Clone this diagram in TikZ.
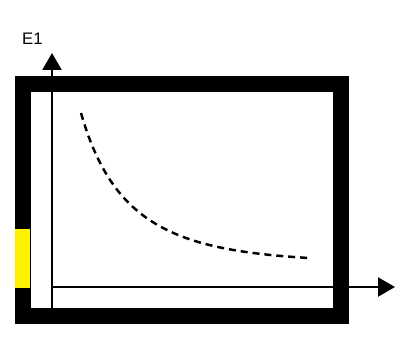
\documentclass[tikz,border=0pt]{standalone}
\usepackage{fontspec}
\setmainfont{Liberation Sans}
\usepackage{tikz}
\usetikzlibrary{positioning, arrows.meta}

\begin{document}
\begin{tikzpicture}[x=0.02cm, y=-0.02cm,
    axis/.style={line width=1.3pt, -{Triangle[length=0.34cm, width=0.38cm]}}]
  \useasboundingbox (0,0) rectangle (395,341);
  % thick frame
  \node[draw, line width=0.32cm, minimum width=6.36cm, minimum height=4.64cm,
        inner sep=0pt, outer sep=0pt] (frame) at (182,200) {};
  \fill[yellow] (15,229) rectangle (30,288);
  % axes
  \coordinate (ybase) at (52,308);
  \coordinate (ytop) at (52,53);
  \coordinate (origin) at (52,287);
  \coordinate (xend) at (395,287);
  \draw[axis] (ybase) -- (ytop);
  \draw[axis] (origin) -- (xend);
  \node[font=\fontsize{9.5}{11}\selectfont, inner sep=0pt,
        above left=0.17cm and 0.18cm of ytop] (elabel) {E1};
  % decay curve
  \draw[line width=1.4pt, dash pattern=on 4pt off 2.8pt]
    (81,113) .. controls (113,225) and (175,250) .. (309,258);
\end{tikzpicture}
\end{document}
